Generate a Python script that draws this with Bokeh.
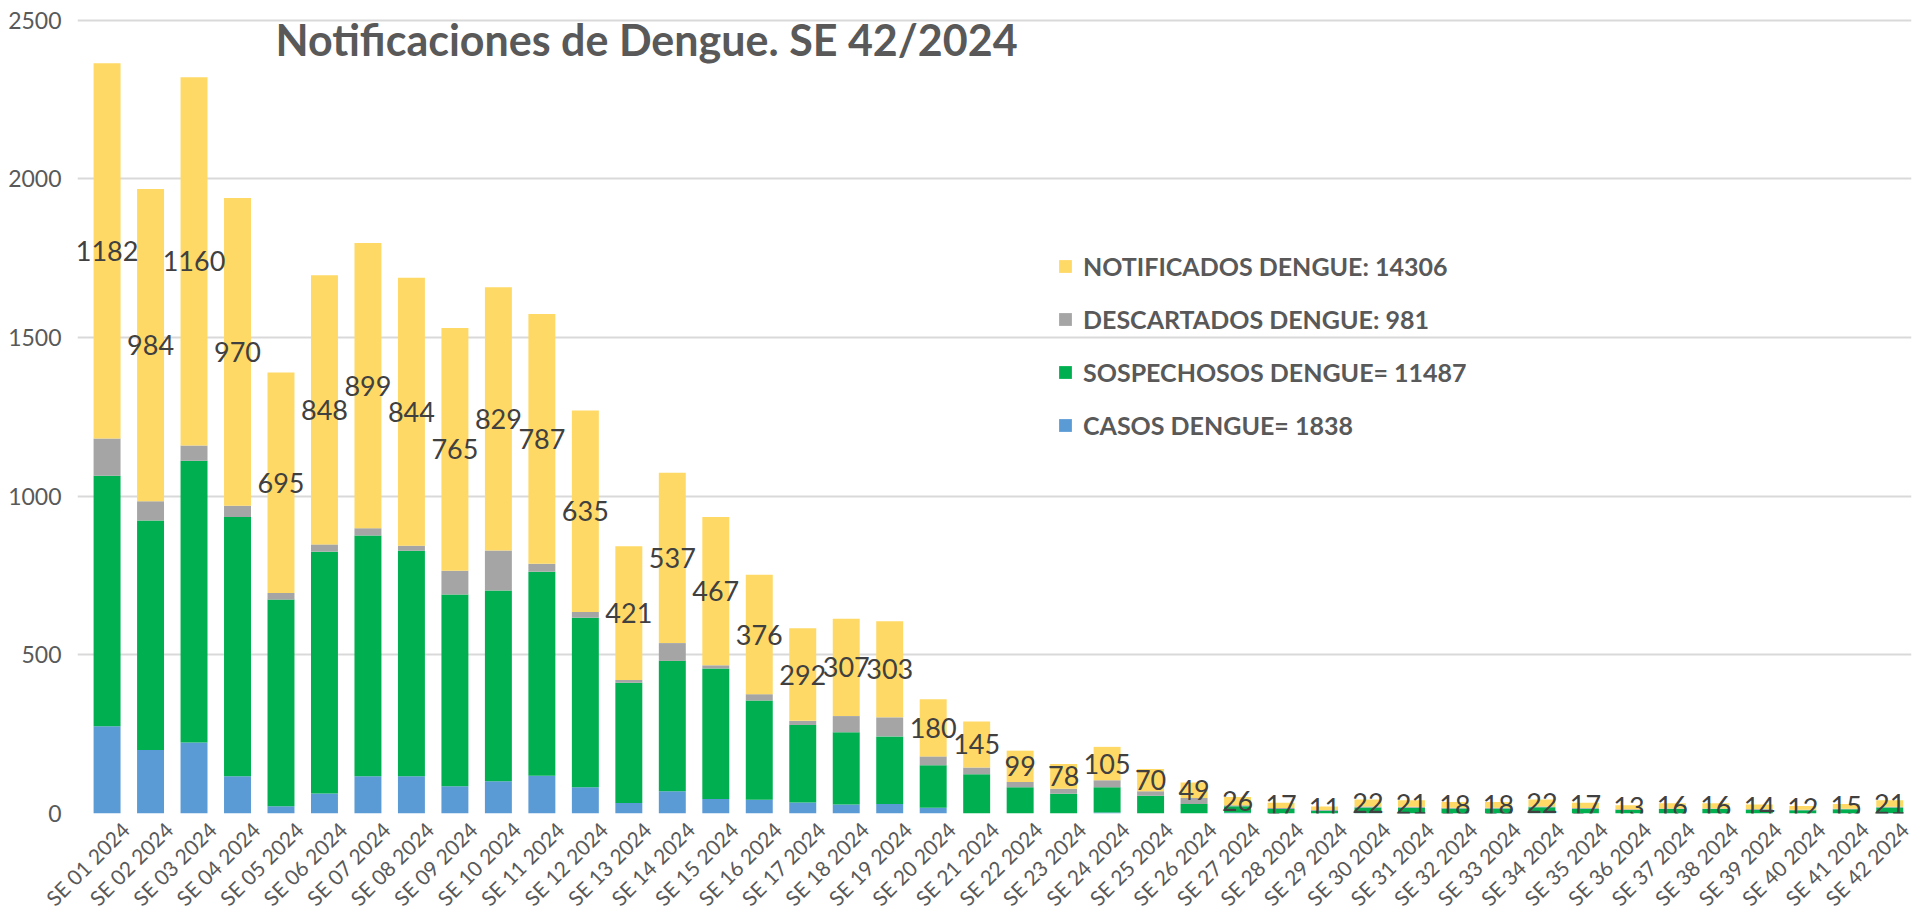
from bokeh.plotting import figure
from bokeh.models import ColumnDataSource, Range1d, FixedTicker, Legend, LegendItem, Label, LinearAxis
from bokeh.core.properties import value
from bokeh.embed import file_html
from bokeh.resources import INLINE

semanas = ["SE 01 2024", "SE 02 2024", "SE 03 2024", "SE 04 2024", "SE 05 2024", "SE 06 2024",
           "SE 07 2024", "SE 08 2024", "SE 09 2024", "SE 10 2024", "SE 11 2024", "SE 12 2024",
           "SE 13 2024", "SE 14 2024", "SE 15 2024", "SE 16 2024", "SE 17 2024", "SE 18 2024",
           "SE 19 2024", "SE 20 2024", "SE 21 2024", "SE 22 2024", "SE 23 2024", "SE 24 2024",
           "SE 25 2024", "SE 26 2024", "SE 27 2024", "SE 28 2024", "SE 29 2024", "SE 30 2024",
           "SE 31 2024", "SE 32 2024", "SE 33 2024", "SE 34 2024", "SE 35 2024", "SE 36 2024",
           "SE 37 2024", "SE 38 2024", "SE 39 2024", "SE 40 2024", "SE 41 2024", "SE 42 2024"]

casos = [275, 200, 224, 117, 23, 63, 117, 117, 86, 102, 119, 83, 33, 70, 46, 43, 35, 28, 30, 18,
         0, 0, 0, 3, 0, 0, 2, 0, 0, 1, 1, 0, 0, 1, 0, 0, 0, 0, 0, 0, 0, 1]
sospechosos = [789, 723, 888, 817, 651, 762, 759, 711, 604, 601, 643, 534, 379, 411, 411, 313, 244,
               228, 213, 134, 124, 83, 62, 80, 56, 30, 21, 14, 9, 18, 17, 16, 16, 19, 15, 11, 14,
               14, 12, 10, 13, 18]
descartados = [118, 61, 48, 36, 21, 23, 23, 16, 75, 126, 25, 18, 9, 56, 10, 20, 13, 51, 60, 28,
               21, 16, 16, 22, 14, 19, 3, 3, 2, 3, 3, 2, 2, 2, 2, 2, 2, 2, 2, 2, 2, 2]
notificados = [1182, 984, 1160, 970, 695, 848, 899, 844, 765, 829, 787, 635, 421, 537, 467, 376,
               292, 307, 303, 180, 145, 99, 78, 105, 70, 49, 26, 17, 11, 22, 21, 18, 18, 22, 17,
               13, 16, 16, 14, 12, 15, 21]

leyenda = ["NOTIFICADOS DENGUE: 14306", "DESCARTADOS DENGUE: 981",
           "SOSPECHOSOS DENGUE= 11487", "CASOS DENGUE= 1838"]
titulo = "Notificaciones de Dengue. SE 42/2024"
y_ticks = [0, 500, 1000, 1500, 2000, 2500]

FONT = "Lato"
TXT = "#595959"

x = list(range(len(semanas)))
base = [c + s + d for c, s, d in zip(casos, sospechosos, descartados)]
src = ColumnDataSource(dict(
    x=x, casos=casos, sosp=sospechosos, desc=descartados, notif=notificados,
    label_y=[b + n / 2 for b, n in zip(base, notificados)],
    txt=[str(n) for n in notificados],
))

X0, X1 = -0.68, 41.5
p = figure(width=1913, height=922, output_backend="svg", toolbar_location=None,
           x_range=Range1d(X0, X1), y_range=Range1d(0, 2562), x_axis_location=None,
           min_border_left=77, min_border_right=2, min_border_top=0, min_border_bottom=108)
p.outline_line_color = None
p.background_fill_color = "white"

rs = p.vbar_stack(["casos", "sosp", "desc", "notif"], x="x", width=0.62, source=src,
                  color=["#5B9BD5", "#00B050", "#A5A5A5", "#FFD966"], line_color=None)

p.text(x="x", y="label_y", text="txt", source=src, text_align="center", text_baseline="middle",
       text_font=value(FONT), text_font_size="27px", text_color="#404040")

# category axis (labels anchored slightly right of each bar, as in the original)
p.extra_x_ranges = {"lab": Range1d(X0 - 0.42, X1 - 0.42)}
xax = LinearAxis(x_range_name="lab", ticker=FixedTicker(ticks=x),
                 major_label_overrides={i: s for i, s in zip(x, semanas)})
xax.major_label_orientation = 0.7854
xax.major_label_text_font = FONT
xax.major_label_text_font_size = "21px"
xax.major_label_text_color = TXT
xax.axis_line_color = None
xax.major_tick_line_color = None
xax.minor_tick_line_color = None
xax.major_label_standoff = 6
p.add_layout(xax, "below")

p.yaxis.ticker = FixedTicker(ticks=y_ticks)
p.yaxis.major_label_text_font = FONT
p.yaxis.major_label_text_font_size = "23px"
p.yaxis.major_label_text_color = TXT
p.yaxis.axis_line_color = None
p.yaxis.major_tick_line_color = None
p.yaxis.minor_tick_line_color = None
p.yaxis.major_label_standoff = 10

p.xgrid.grid_line_color = None
p.ygrid.grid_line_color = "#D9D9D9"
p.ygrid.grid_line_width = 2

legend = Legend(items=[LegendItem(label=leyenda[0], renderers=[rs[3]]),
                       LegendItem(label=leyenda[1], renderers=[rs[2]]),
                       LegendItem(label=leyenda[2], renderers=[rs[1]]),
                       LegendItem(label=leyenda[3], renderers=[rs[0]])],
                location=(980, 372), orientation="vertical")
legend.border_line_color = None
legend.background_fill_alpha = 0
legend.padding = 0
legend.margin = 0
legend.spacing = 21
legend.label_height = 32
legend.glyph_height = 16
legend.glyph_width = 16
legend.label_standoff = 10
legend.label_text_font = FONT
legend.label_text_font_style = "bold"
legend.label_text_font_size = "25px"
legend.label_text_color = TXT
legend.label_text_baseline = "middle"
p.add_layout(legend)

p.add_layout(Label(x=569, y=774, x_units="screen", y_units="screen", text=titulo,
                   text_align="center", text_baseline="alphabetic", text_font=FONT,
                   text_font_style="bold", text_font_size="43px", text_color=TXT))

open("out.html", "w").write(file_html(p, INLINE))
